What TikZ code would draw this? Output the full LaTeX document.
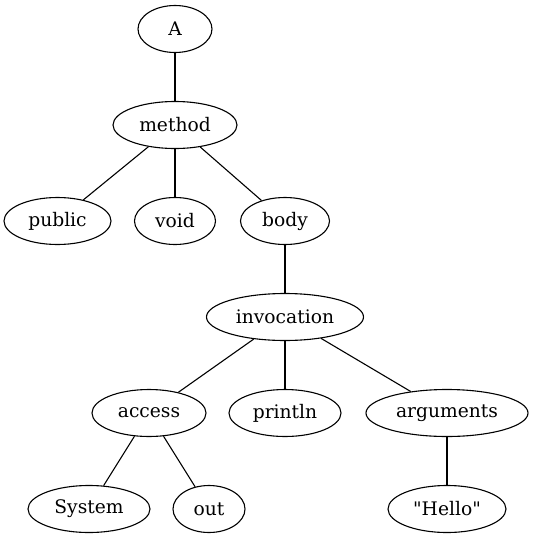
\documentclass[tikz,border=0pt]{standalone}
\usepackage{fontspec}
\setmainfont{DejaVu Serif}[Ligatures=TeXOff]
\usetikzlibrary{shapes}

\begin{document}
\begin{tikzpicture}[x=1pt,y=-1pt,
	tn/.style={draw,ellipse,inner sep=0pt,minimum height=47pt,line width=1.1pt,font=\fontsize{18.67}{22}\selectfont}]
\useasboundingbox (0,0) rectangle (533,539);
\node[tn,minimum width=74pt] (a) at (175,29) {A};
\node[tn,minimum width=124pt] (m) at (175,125) {method};
\node[tn,minimum width=107pt] (pu) at (57.5,221) {public};
\node[tn,minimum width=81pt] (v) at (175,221) {void};
\node[tn,minimum width=89pt] (b) at (285,221) {body};
\node[tn,minimum width=157pt] (i) at (285,317) {invocation};
\node[tn,minimum width=114pt] (ac) at (149,413) {access};
\node[tn,minimum width=112pt] (pr) at (285,413) {println};
\node[tn,minimum width=162pt] (ar) at (447,413) {arguments};
\node[tn,minimum width=122pt] (s) at (89,509) {System};
\node[tn,minimum width=72pt] (o) at (209,509) {out};
\node[tn,minimum width=118pt] (h) at (447,509) {"Hello"};
\foreach \p/\c in {a/m,m/pu,m/v,m/b,b/i,i/ac,i/pr,i/ar,ac/s,ac/o,ar/h} {
	\draw[line width=1.1pt] (\p) -- (\c);
}
\end{tikzpicture}
\end{document}
